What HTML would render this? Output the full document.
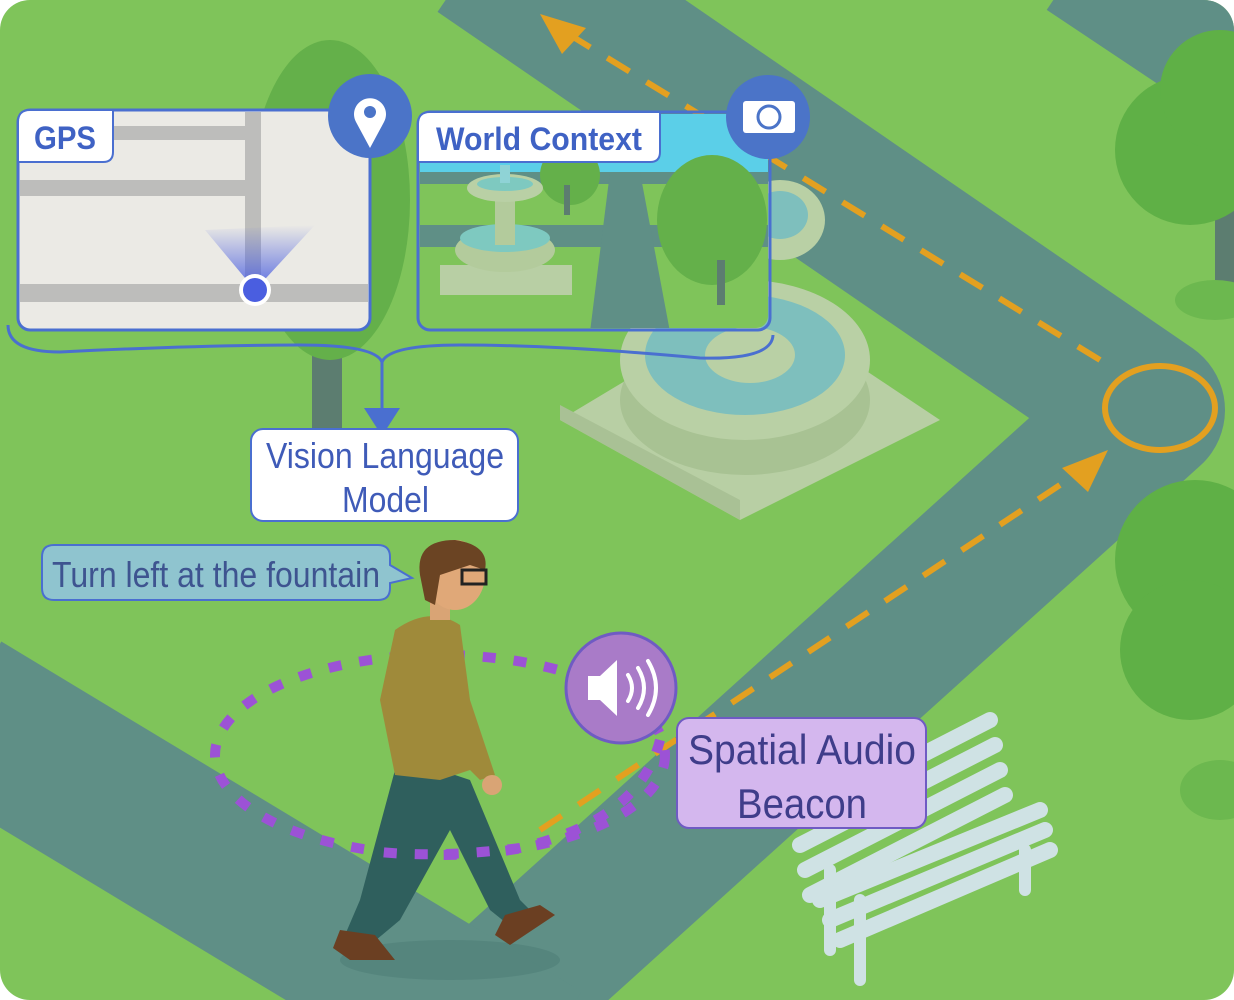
<!DOCTYPE html>
<html><head><meta charset="utf-8"><style>
html,body{margin:0;padding:0;background:#fff;overflow:hidden;width:1234px;height:1000px;}
svg{display:block;}
</style></head><body>
<svg width="1234" height="1000" viewBox="0 0 1234 1000" xmlns="http://www.w3.org/2000/svg">
<defs>
<clipPath id="c"><rect x="0" y="0" width="1234" height="1000" rx="30"/></clipPath>
<linearGradient id="cone" x1="0" y1="1" x2="0" y2="0"><stop offset="0" stop-color="#4a5ee0" stop-opacity="0.9"/><stop offset="1" stop-color="#4a5ee0" stop-opacity="0"/></linearGradient>
<clipPath id="wc"><rect x="420" y="114" width="348" height="214" rx="12"/></clipPath>
</defs>
<g clip-path="url(#c)">
<rect width="1234" height="1000" fill="#7fc45a"/>
<g fill="none" stroke="#5f8f86" stroke-linejoin="round">
<polyline points="480,-50 1150,410 430,1060" stroke-width="150"/>
<polyline points="-40,710 540,1060" stroke-width="160"/>
<polyline points="1080,-40 1260,80" stroke-width="120"/>
</g>
<rect x="312" y="300" width="30" height="130" fill="#5c7d70"/>
<ellipse cx="330" cy="200" rx="80" ry="160" fill="#64b04a"/>
<rect x="1215" y="200" width="20" height="100" fill="#5c7d70"/>
<ellipse cx="1215" cy="300" rx="40" ry="20" fill="#6cb84f"/>
<circle cx="1190" cy="150" r="75" fill="#5fb046"/><circle cx="1220" cy="90" r="60" fill="#5fb046"/>
<circle cx="1195" cy="560" r="80" fill="#5fb046"/><circle cx="1190" cy="650" r="70" fill="#5fb046"/>
<ellipse cx="1220" cy="790" rx="40" ry="30" fill="#6cb84f"/>
<polygon points="560,420 760,300 940,420 740,520" fill="#b8cfa4"/>
<polygon points="560,420 740,520 740,500 560,405" fill="#a9c195"/>
<ellipse cx="745" cy="400" rx="125" ry="75" fill="#a8c293"/>
<ellipse cx="745" cy="360" rx="125" ry="80" fill="#b9d0a5"/>
<ellipse cx="745" cy="355" rx="100" ry="60" fill="#7ebfbd"/>
<ellipse cx="750" cy="355" rx="45" ry="28" fill="#b9d0a5"/>
<ellipse cx="780" cy="220" rx="45" ry="40" fill="#b9d0a5"/>
<ellipse cx="780" cy="215" rx="28" ry="24" fill="#7ebfbd"/>
<g stroke="#cfe2e4" stroke-linecap="round" fill="none">
<line x1="830" y1="870" x2="830" y2="950" stroke-width="12"/>
<line x1="1025" y1="850" x2="1025" y2="890" stroke-width="12"/>
<line x1="860" y1="900" x2="860" y2="980" stroke-width="12"/>
<g stroke-width="16">
<line x1="795" y1="820" x2="990" y2="720"/><line x1="800" y1="845" x2="995" y2="745"/><line x1="805" y1="870" x2="1000" y2="770"/><line x1="810" y1="895" x2="1005" y2="795"/>
<line x1="820" y1="900" x2="1040" y2="810"/><line x1="830" y1="920" x2="1045" y2="830"/><line x1="840" y1="940" x2="1050" y2="850"/>
</g></g>
<g stroke="#e3a020" fill="none" stroke-width="6">
<polyline points="540,830 1090,465" stroke-dasharray="26 20"/>
<polyline points="1100,360 570,35" stroke-dasharray="26 20"/>
<ellipse cx="1160" cy="408" rx="55" ry="42"/>
</g>
<polygon points="1108,450 1062,468 1088,492" fill="#e3a020"/>
<polygon points="540,14 586,28 562,54" fill="#e3a020"/>
<ellipse cx="440" cy="755" rx="225" ry="100" fill="none" stroke="#9c52d6" stroke-width="10" stroke-dasharray="13 18"/>
<ellipse cx="450" cy="960" rx="110" ry="20" fill="#4f7f78" opacity="0.6"/>
<path d="M395,770 L440,770 L470,780 L520,900 L540,920 L515,930 L490,910 L450,830 L400,920 L370,945 L345,935 L360,900 Z" fill="#2f5f5d"/>
<path d="M340,930 L375,935 L395,960 L350,960 L333,948Z" fill="#6b3f22"/>
<path d="M505,915 L540,905 L555,915 L510,945 L495,935Z" fill="#6b3f22"/>
<path d="M395,630 Q430,605 460,625 L470,700 L495,775 L480,780 L470,770 L440,780 L395,775 L380,700 Z" fill="#9f8a3a"/>
<rect x="430" y="590" width="20" height="30" fill="#d9a475"/>
<ellipse cx="455" cy="575" rx="30" ry="35" fill="#e0a878"/>
<path d="M420,575 Q415,540 455,540 Q490,545 485,570 L470,565 L440,575 L435,605 L425,600Z" fill="#6b4423"/>
<rect x="462" y="570" width="24" height="14" fill="none" stroke="#222" stroke-width="3"/>
<circle cx="492" cy="785" r="10" fill="#d9a475"/>
<path d="M660,740 Q640,820 520,848 Q440,858 380,852" fill="none" stroke="#9c52d6" stroke-width="10" stroke-dasharray="13 18"/>
<rect x="18" y="110" width="352" height="220" rx="12" fill="#ebeae5" stroke="#4a6fd0" stroke-width="3"/>
<g fill="#bdbdbb"><rect x="20" y="126" width="225" height="14"/><rect x="20" y="180" width="225" height="16"/><rect x="245" y="112" width="16" height="180"/><rect x="20" y="284" width="348" height="18"/></g>
<polygon points="205,230 315,225 255,290" fill="url(#cone)"/>
<circle cx="255" cy="290" r="16" fill="#fff"/><circle cx="255" cy="290" r="12" fill="#4a5ee0"/>
<path d="M18,162 L18,122 Q18,110 30,110 L113,110 L113,152 Q113,162 103,162 Z" fill="#fff" stroke="#4a6fd0" stroke-width="2"/>
<text x="34" y="149" font-family="Liberation Sans, sans-serif" font-weight="bold" font-size="32" fill="#3f62c4" textLength="62" lengthAdjust="spacingAndGlyphs">GPS</text>
<circle cx="370" cy="116" r="42" fill="#4b74c8"/>
<path d="M370,148 L356,122 A16,16 0 1 1 384,122 Z" fill="#fff"/><circle cx="370" cy="112" r="6" fill="#4b74c8"/>
<g clip-path="url(#wc)">
<rect x="418" y="112" width="352" height="220" fill="#7fc45a"/>
<rect x="418" y="112" width="352" height="60" fill="#5bcfe8"/>
<rect x="418" y="172" width="352" height="12" fill="#5f8f86"/>
<rect x="418" y="225" width="352" height="22" fill="#5f8f86"/>
<polygon points="610,172 640,172 670,332 590,332" fill="#5f8f86"/>
<circle cx="570" cy="175" r="30" fill="#64b04a"/><rect x="564" y="185" width="6" height="30" fill="#5c7d70"/>
<ellipse cx="712" cy="220" rx="55" ry="65" fill="#64b04a"/><rect x="717" y="260" width="8" height="45" fill="#5c7d70"/>
<polygon points="440,265 572,265 572,295 440,295" fill="#b8cfa4"/>
<ellipse cx="505" cy="250" rx="50" ry="22" fill="#b3cb9c"/><ellipse cx="505" cy="238" rx="45" ry="14" fill="#7ec9c0"/>
<rect x="495" y="200" width="20" height="45" fill="#b3cb9c"/>
<ellipse cx="505" cy="188" rx="38" ry="14" fill="#b9d0a5"/><ellipse cx="505" cy="184" rx="28" ry="7" fill="#7ec9c0"/>
<rect x="500" y="165" width="10" height="18" fill="#8fd3d6"/>
</g>
<rect x="418" y="112" width="352" height="218" rx="12" fill="none" stroke="#4a6fd0" stroke-width="3"/>
<path d="M418,162 L418,124 Q418,112 430,112 L660,112 L660,152 Q660,162 650,162 Z" fill="#fff" stroke="#4a6fd0" stroke-width="2"/>
<text x="436" y="150" font-family="Liberation Sans, sans-serif" font-weight="bold" font-size="32" fill="#3f62c4" textLength="206" lengthAdjust="spacingAndGlyphs">World Context</text>
<circle cx="768" cy="117" r="42" fill="#4b74c8"/>
<rect x="743" y="101" width="52" height="32" rx="3" fill="#fff"/><circle cx="769" cy="117" r="11" fill="none" stroke="#4b74c8" stroke-width="3"/>
<path d="M8,325 Q8,352 60,352 Q200,345 300,345 Q375,345 382,362 Q389,345 460,345 Q560,345 700,358 Q772,360 773,335" fill="none" stroke="#4a6fd0" stroke-width="3"/>
<line x1="382" y1="360" x2="382" y2="412" stroke="#4a6fd0" stroke-width="3"/>
<polygon points="364,408 400,408 382,436" fill="#4a6fd0"/>
<rect x="251" y="429" width="267" height="92" rx="12" fill="#fff" stroke="#4a6fd0" stroke-width="2"/>
<text font-family="Liberation Sans, sans-serif" font-size="36" fill="#3f5bb8"><tspan x="266" y="468" textLength="238" lengthAdjust="spacingAndGlyphs">Vision Language</tspan></text>
<text font-family="Liberation Sans, sans-serif" font-size="36" fill="#3f5bb8"><tspan x="342" y="512" textLength="87" lengthAdjust="spacingAndGlyphs">Model</tspan></text>
<path d="M54,545 L378,545 Q390,545 390,557 L390,565 L412,578 L390,583 L390,588 Q390,600 378,600 L54,600 Q42,600 42,588 L42,557 Q42,545 54,545Z" fill="#8fc4cf" stroke="#4a6fd0" stroke-width="2"/>
<text x="52" y="587" font-family="Liberation Sans, sans-serif" font-size="36" fill="#3e5490" textLength="328" lengthAdjust="spacingAndGlyphs">Turn left at the fountain</text>
<circle cx="621" cy="688" r="55" fill="#a97bc8" stroke="#6f5bc3" stroke-width="3"/>
<path d="M588,676 L600,676 L617,660 L617,716 L600,700 L588,700 Z" fill="#fff"/>
<path d="M628,675 Q636,688 628,701 M638,668 Q650,688 638,708 M648,661 Q664,688 648,715" fill="none" stroke="#fff" stroke-width="4" stroke-linecap="round"/>
<rect x="677" y="718" width="249" height="110" rx="12" fill="#d4b7ee" stroke="#6f5bc3" stroke-width="2"/>
<text font-family="Liberation Sans, sans-serif" font-size="42" fill="#3f3d8a"><tspan x="688" y="764" textLength="228" lengthAdjust="spacingAndGlyphs">Spatial Audio</tspan></text>
<text font-family="Liberation Sans, sans-serif" font-size="42" fill="#3f3d8a"><tspan x="737" y="818" textLength="130" lengthAdjust="spacingAndGlyphs">Beacon</tspan></text>
</g>
</svg>
</body></html>
